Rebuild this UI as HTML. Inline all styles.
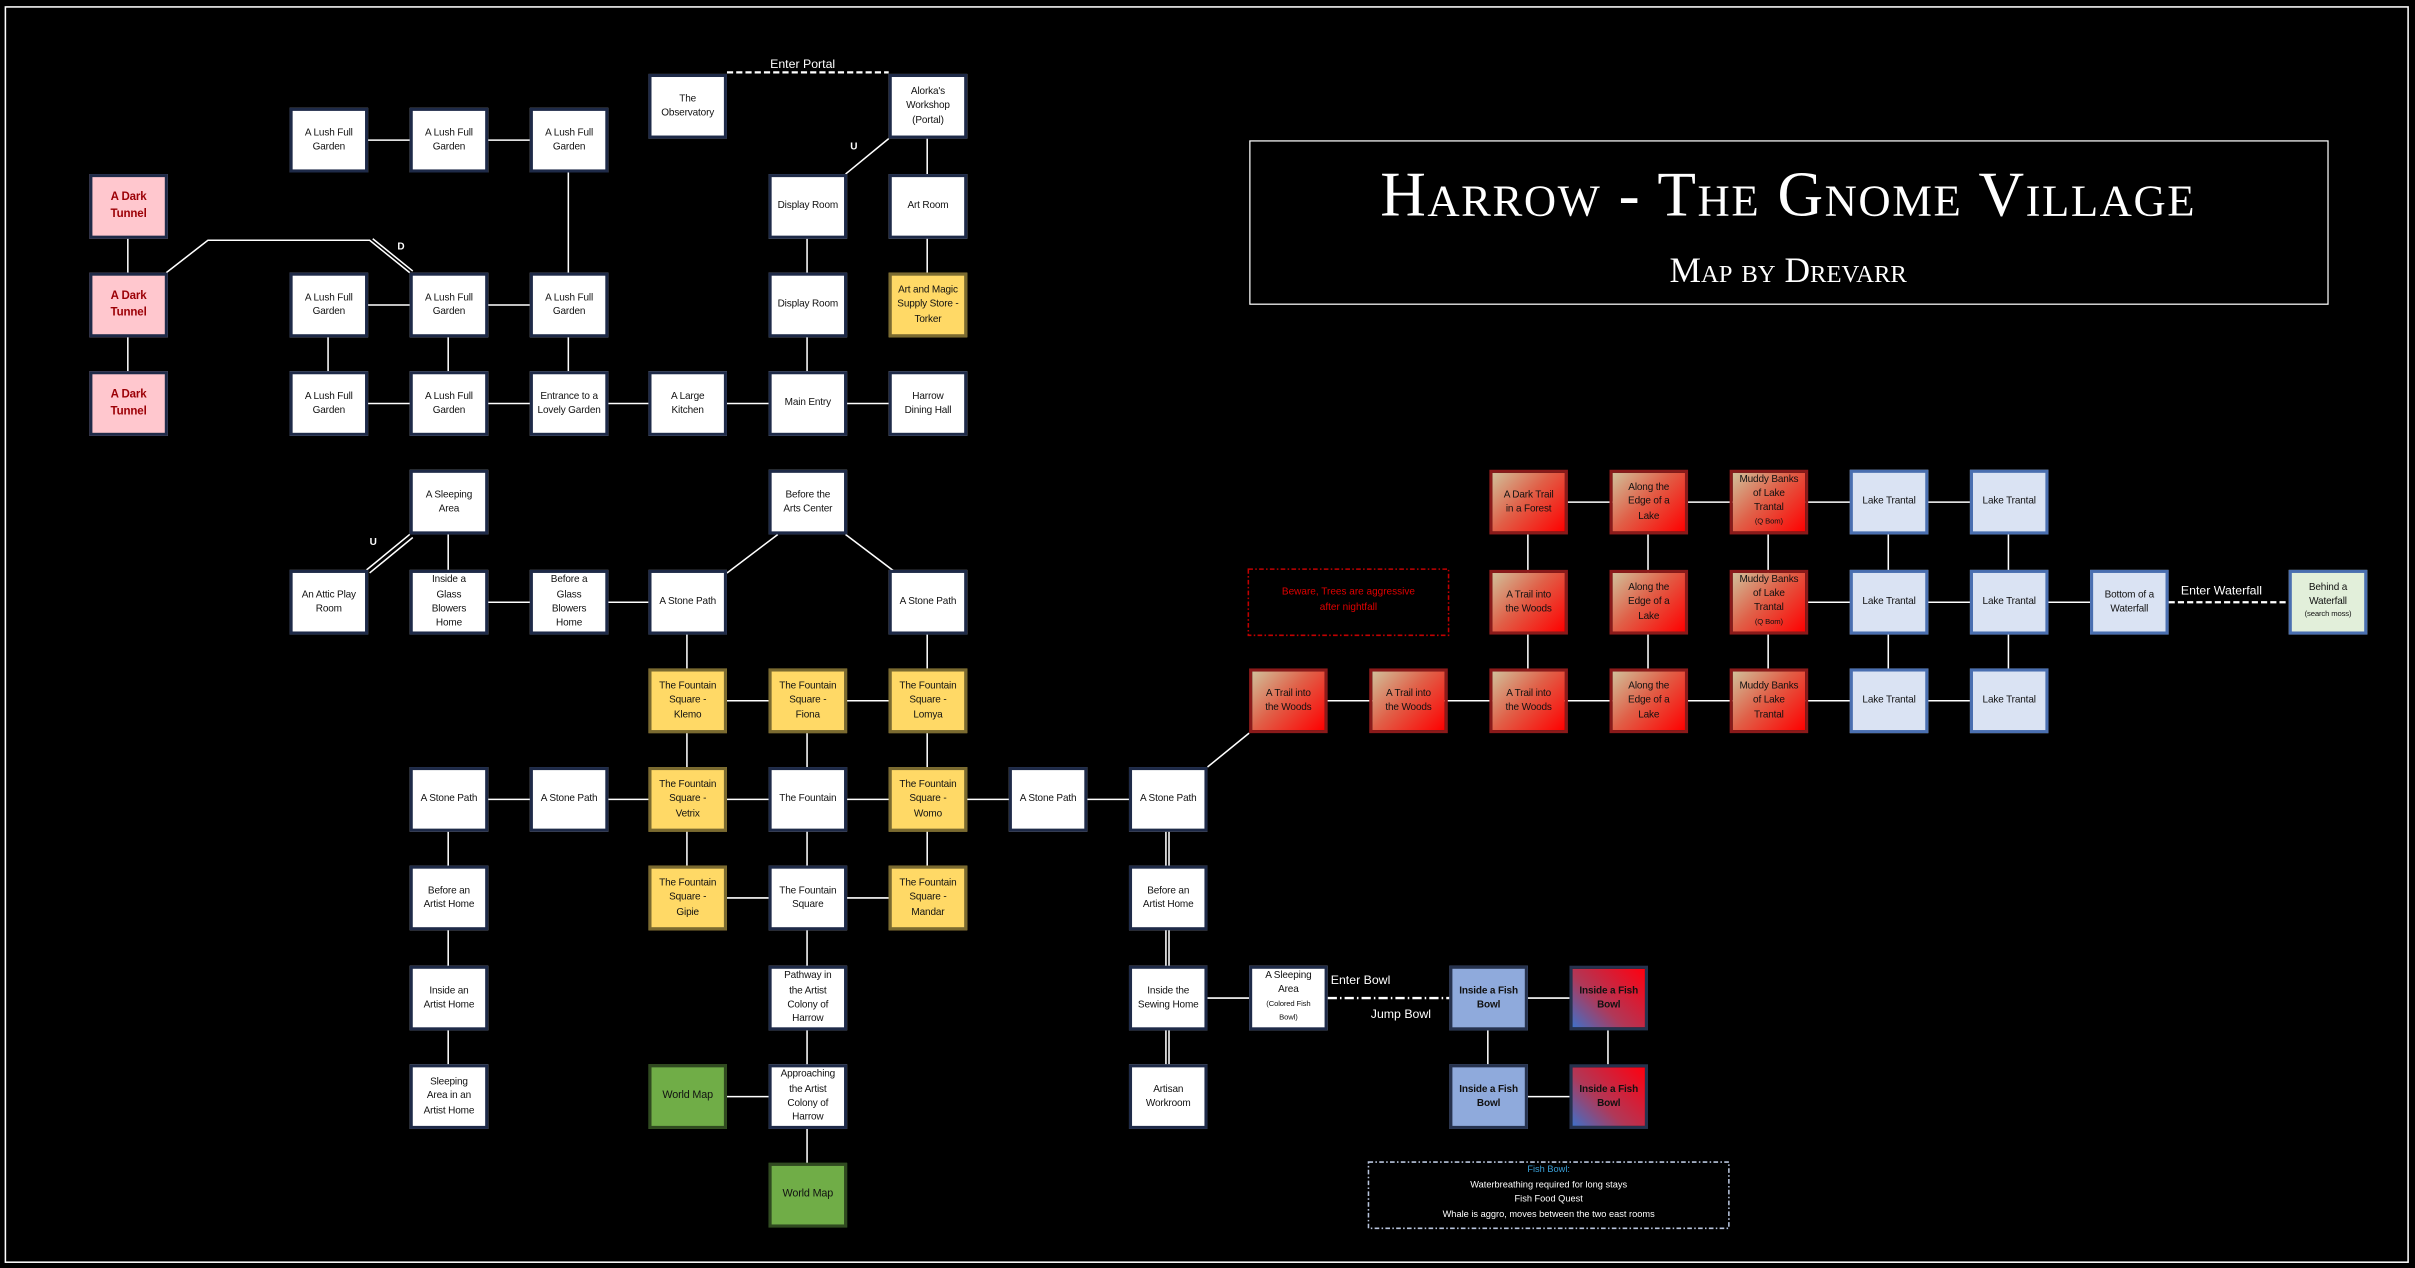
<!DOCTYPE html>
<html><head><meta charset="utf-8"><style>
html,body{margin:0;padding:0;background:#000;width:2415px;height:1268px;overflow:hidden}
#s{position:absolute;left:0;top:0;width:1568px;height:823px;transform:scale(1.5402);transform-origin:0 0;font-family:"Liberation Sans Narrow","Liberation Sans",sans-serif;}
svg{position:absolute;left:0;top:0}
.b{position:absolute;width:45px;height:38px;border:2px solid #1e2a48;background:#fff;color:#111;font-size:6.5px;line-height:1.45;display:flex;align-items:center;justify-content:center;text-align:center;padding:0 1px;box-sizing:content-box;letter-spacing:-0.1px}
.y{background:#ffd966;border-color:#7a6a30}
.g{background:#70ad47;border-color:#304a20;font-size:7px}
.p{background:#ffc7ce;color:#9c0006;font-weight:bold;font-size:7.5px;border-color:#1e2a48}
.r{background:linear-gradient(135deg,#d0c09a 0%,#e06048 45%,#ff0000 100%);border-color:#8b1a1a}
.l{background:#dae3f3;border-color:#4a6fb0}
.lg{background:#e2efda;border-color:#4a6fb0}
.fb{background:#8faadc;border-color:#26324e;font-weight:bold}
.fr{background:linear-gradient(45deg,#4070c8 0%,#b03858 40%,#ff0010 100%);border-color:#26324e;font-weight:bold}
.sm{font-size:5px}
.t{position:absolute;color:#fff;font-size:8px}
</style></head><body><div id="s">
<svg width="1568" height="823" viewBox="0 0 1568 823">
<g fill="none" stroke="#fff" stroke-width="1">
<rect x="3.5" y="4.5" width="1560" height="815"/>
<line x1="83" y1="155" x2="83" y2="177"/><line x1="83" y1="219" x2="83" y2="241"/>
<polyline points="108,177 135,156 240,156 266,177"/><line x1="242" y1="155" x2="268" y2="176"/>
<line x1="238" y1="91" x2="344" y2="91"/><line x1="369" y1="112" x2="369" y2="177"/>
<line x1="238" y1="198" x2="344" y2="198"/>
<line x1="213" y1="219" x2="213" y2="241"/><line x1="291" y1="219" x2="291" y2="241"/><line x1="369" y1="219" x2="369" y2="241"/>
<line x1="238" y1="262" x2="577" y2="262"/>
<line x1="524" y1="155" x2="524" y2="241"/>
<line x1="602" y1="90" x2="602" y2="177"/>
<line x1="577" y1="90" x2="549" y2="113"/>
<line x1="291" y1="347" x2="291" y2="370"/>
<line x1="238" y1="370" x2="266" y2="347"/><line x1="240" y1="372" x2="268" y2="349"/>
<line x1="316" y1="391" x2="421" y2="391"/>
<line x1="505" y1="347" x2="472" y2="372"/><line x1="549" y1="347" x2="582" y2="372"/>
<line x1="446" y1="412" x2="446" y2="434"/><line x1="602" y1="412" x2="602" y2="434"/>
<line x1="471" y1="455" x2="577" y2="455"/>
<line x1="446" y1="476" x2="446" y2="562"/><line x1="524" y1="476" x2="524" y2="562"/><line x1="602" y1="476" x2="602" y2="562"/>
<line x1="316" y1="519" x2="733" y2="519"/>
<line x1="471" y1="583" x2="577" y2="583"/>
<line x1="291" y1="540" x2="291" y2="691"/>
<line x1="524" y1="604" x2="524" y2="755"/><line x1="471" y1="712" x2="499" y2="712"/>
<line x1="757" y1="540" x2="757" y2="691"/><line x1="759" y1="540" x2="759" y2="691"/>
<line x1="783" y1="648" x2="811" y2="648"/>
<line x1="991" y1="648" x2="1019" y2="648"/><line x1="991" y1="712" x2="1019" y2="712"/>
<line x1="966" y1="669" x2="966" y2="691"/><line x1="1044" y1="669" x2="1044" y2="691"/>
<line x1="784" y1="498" x2="811" y2="476"/>
<line x1="861" y1="455" x2="1279" y2="455"/>
<line x1="1017" y1="326" x2="1279" y2="326"/>
<line x1="1173" y1="391" x2="1357" y2="391"/>
<line x1="992" y1="347" x2="992" y2="434"/><line x1="1070" y1="347" x2="1070" y2="434"/><line x1="1148" y1="347" x2="1148" y2="434"/><line x1="1226" y1="347" x2="1226" y2="434"/><line x1="1304" y1="347" x2="1304" y2="434"/>
</g>
<line x1="472" y1="47" x2="577" y2="47" stroke="#fff" stroke-width="1.5" stroke-dasharray="4,2"/>
<line x1="1408" y1="391" x2="1486" y2="391" stroke="#fff" stroke-width="1.5" stroke-dasharray="4,2"/>
<line x1="862" y1="648" x2="941" y2="648" stroke="#fff" stroke-width="1.5" stroke-dasharray="6,2,1,2"/>
<rect x="810.5" y="369.5" width="130" height="43" fill="none" stroke="#c00000" stroke-width="1" stroke-dasharray="3,1.5,1,1.5"/>
<rect x="888.5" y="754.5" width="234" height="43" fill="none" stroke="#b8c4dc" stroke-width="1" stroke-dasharray="3,1.5,1,1.5"/>
<rect x="811.5" y="91.5" width="700" height="106" fill="none" stroke="#fff" stroke-width="0.8"/>
</svg>
<div class="t" style="left:500px;top:37px">Enter Portal</div>
<div class="t" style="left:552px;top:92px;font-size:6.5px;font-weight:bold">U</div>
<div class="t" style="left:258px;top:157px;font-size:6.5px;font-weight:bold">D</div>
<div class="t" style="left:240px;top:349px;font-size:6.5px;font-weight:bold">U</div>
<div class="t" style="left:864px;top:632px">Enter Bowl</div>
<div class="t" style="left:890px;top:654px">Jump Bowl</div>
<div class="t" style="left:1416px;top:379px">Enter Waterfall</div>
<div style="position:absolute;left:811px;top:104px;width:700px;text-align:center;color:#fff;font-family:'Liberation Serif',serif;font-variant:small-caps;font-size:41px;letter-spacing:1px;line-height:44px">Harrow - The Gnome Village</div>
<div style="position:absolute;left:811px;top:161px;width:700px;text-align:center;color:#fff;font-family:'Liberation Serif',serif;font-variant:small-caps;font-size:23px;line-height:30px">Map by Drevarr</div>
<div style="position:absolute;left:810px;top:380px;width:131px;text-align:center;color:#e00000;font-size:6.5px;line-height:1.6">Beware, Trees are aggressive<br>after nightfall</div>
<div style="position:absolute;left:888px;top:756px;width:235px;text-align:center;color:#fff;font-size:6px;line-height:1.6"><span style="color:#3aa0d8">Fish Bowl:</span><br>Waterbreathing required for long stays<br>Fish Food Quest<br>Whale is aggro, moves between the two east rooms</div>

<div class="b p" style="left:58px;top:113px">A Dark<br>Tunnel</div>
<div class="b p" style="left:58px;top:177px">A Dark<br>Tunnel</div>
<div class="b p" style="left:58px;top:241px">A Dark<br>Tunnel</div>
<div class="b" style="left:188px;top:70px">A Lush Full<br>Garden</div>
<div class="b" style="left:266px;top:70px">A Lush Full<br>Garden</div>
<div class="b" style="left:344px;top:70px">A Lush Full<br>Garden</div>
<div class="b" style="left:421px;top:48px">The<br>Observatory</div>
<div class="b" style="left:577px;top:48px">Alorka's<br>Workshop<br>(Portal)</div>
<div class="b" style="left:499px;top:113px">Display Room</div>
<div class="b" style="left:577px;top:113px">Art Room</div>
<div class="b" style="left:188px;top:177px">A Lush Full<br>Garden</div>
<div class="b" style="left:266px;top:177px">A Lush Full<br>Garden</div>
<div class="b" style="left:344px;top:177px">A Lush Full<br>Garden</div>
<div class="b" style="left:499px;top:177px">Display Room</div>
<div class="b y" style="left:577px;top:177px">Art and Magic Supply Store - Torker</div>
<div class="b" style="left:188px;top:241px">A Lush Full<br>Garden</div>
<div class="b" style="left:266px;top:241px">A Lush Full<br>Garden</div>
<div class="b" style="left:344px;top:241px">Entrance to a Lovely Garden</div>
<div class="b" style="left:421px;top:241px">A Large<br>Kitchen</div>
<div class="b" style="left:499px;top:241px">Main Entry</div>
<div class="b" style="left:577px;top:241px">Harrow<br>Dining Hall</div>
<div class="b" style="left:266px;top:305px">A Sleeping<br>Area</div>
<div class="b" style="left:499px;top:305px">Before the<br>Arts Center</div>
<div class="b" style="left:188px;top:370px">An Attic Play<br>Room</div>
<div class="b" style="left:266px;top:370px">Inside a<br>Glass<br>Blowers<br>Home</div>
<div class="b" style="left:344px;top:370px">Before a<br>Glass<br>Blowers<br>Home</div>
<div class="b" style="left:421px;top:370px">A Stone Path</div>
<div class="b" style="left:577px;top:370px">A Stone Path</div>
<div class="b y" style="left:421px;top:434px">The Fountain<br>Square -<br>Klemo</div>
<div class="b y" style="left:499px;top:434px">The Fountain<br>Square -<br>Fiona</div>
<div class="b y" style="left:577px;top:434px">The Fountain<br>Square -<br>Lomya</div>
<div class="b" style="left:266px;top:498px">A Stone Path</div>
<div class="b" style="left:344px;top:498px">A Stone Path</div>
<div class="b y" style="left:421px;top:498px">The Fountain<br>Square -<br>Vetrix</div>
<div class="b" style="left:499px;top:498px">The Fountain</div>
<div class="b y" style="left:577px;top:498px">The Fountain<br>Square -<br>Womo</div>
<div class="b" style="left:655px;top:498px">A Stone Path</div>
<div class="b" style="left:733px;top:498px">A Stone Path</div>
<div class="b" style="left:266px;top:562px">Before an<br>Artist Home</div>
<div class="b y" style="left:421px;top:562px">The Fountain<br>Square -<br>Gipie</div>
<div class="b" style="left:499px;top:562px">The Fountain<br>Square</div>
<div class="b y" style="left:577px;top:562px">The Fountain<br>Square -<br>Mandar</div>
<div class="b" style="left:733px;top:562px">Before an<br>Artist Home</div>
<div class="b" style="left:266px;top:627px">Inside an<br>Artist Home</div>
<div class="b" style="left:499px;top:627px">Pathway in<br>the Artist<br>Colony of<br>Harrow</div>
<div class="b" style="left:733px;top:627px">Inside the<br>Sewing Home</div>
<div class="b" style="left:811px;top:627px;line-height:1.35"><span>A Sleeping<br>Area<br><span class="sm">(Colored Fish<br>Bowl)</span></span></div>
<div class="b fb" style="left:941px;top:627px">Inside a Fish<br>Bowl</div>
<div class="b fr" style="left:1019px;top:627px">Inside a Fish<br>Bowl</div>
<div class="b" style="left:266px;top:691px">Sleeping<br>Area in an<br>Artist Home</div>
<div class="b g" style="left:421px;top:691px">World Map</div>
<div class="b" style="left:499px;top:691px">Approaching<br>the Artist<br>Colony of<br>Harrow</div>
<div class="b" style="left:733px;top:691px">Artisan<br>Workroom</div>
<div class="b fb" style="left:941px;top:691px">Inside a Fish<br>Bowl</div>
<div class="b fr" style="left:1019px;top:691px">Inside a Fish<br>Bowl</div>
<div class="b g" style="left:499px;top:755px">World Map</div>

<div class="b r" style="left:967px;top:305px">A Dark Trail<br>in a Forest</div>
<div class="b r" style="left:1045px;top:305px">Along the<br>Edge of a<br>Lake</div>
<div class="b r" style="left:1123px;top:305px;line-height:1.35"><span>Muddy Banks<br>of Lake<br>Trantal<br><span class="sm">(Q Bom)</span></span></div>
<div class="b l" style="left:1201px;top:305px">Lake Trantal</div>
<div class="b l" style="left:1279px;top:305px">Lake Trantal</div>
<div class="b r" style="left:967px;top:370px">A Trail into<br>the Woods</div>
<div class="b r" style="left:1045px;top:370px">Along the<br>Edge of a<br>Lake</div>
<div class="b r" style="left:1123px;top:370px;line-height:1.35"><span>Muddy Banks<br>of Lake<br>Trantal<br><span class="sm">(Q Bom)</span></span></div>
<div class="b l" style="left:1201px;top:370px">Lake Trantal</div>
<div class="b l" style="left:1279px;top:370px">Lake Trantal</div>
<div class="b l" style="left:1357px;top:370px">Bottom of a<br>Waterfall</div>
<div class="b lg" style="left:1486px;top:370px;line-height:1.35"><span>Behind a<br>Waterfall<br><span class="sm">(search moss)</span></span></div>
<div class="b r" style="left:811px;top:434px">A Trail into<br>the Woods</div>
<div class="b r" style="left:889px;top:434px">A Trail into<br>the Woods</div>
<div class="b r" style="left:967px;top:434px">A Trail into<br>the Woods</div>
<div class="b r" style="left:1045px;top:434px">Along the<br>Edge of a<br>Lake</div>
<div class="b r" style="left:1123px;top:434px">Muddy Banks<br>of Lake<br>Trantal</div>
<div class="b l" style="left:1201px;top:434px">Lake Trantal</div>
<div class="b l" style="left:1279px;top:434px">Lake Trantal</div>
</div></body></html>
